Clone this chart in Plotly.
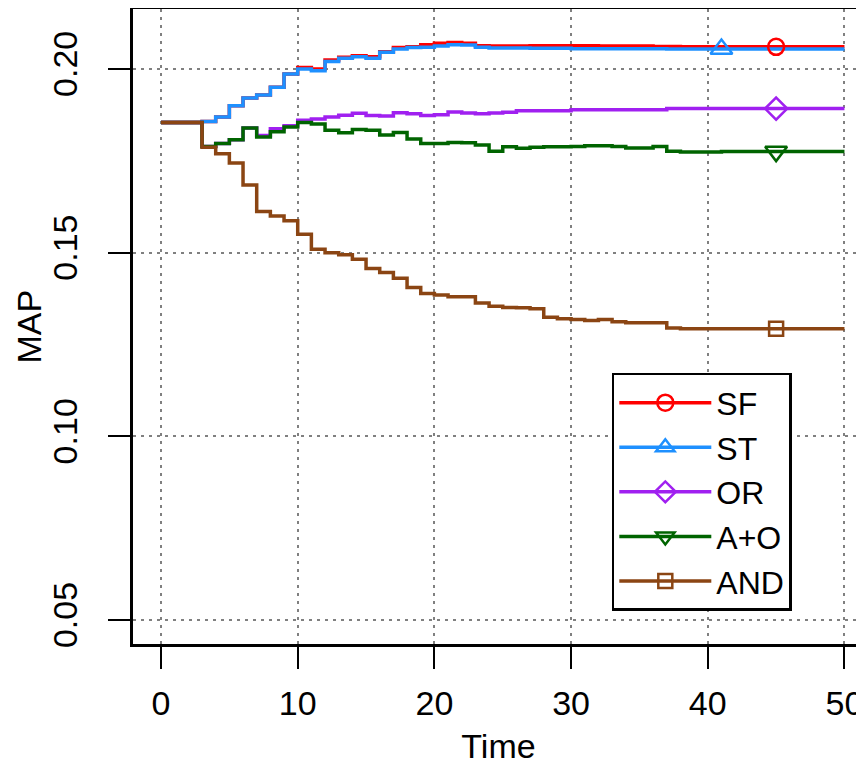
import plotly.graph_objects as go

time = list(range(51))

SF = [0.1854, 0.1854, 0.1854, 0.1857, 0.1869, 0.1900, 0.1921, 0.1929, 0.1950, 0.1986,
      0.2004, 0.2000, 0.2024, 0.2032, 0.2036, 0.2033, 0.2047, 0.2058, 0.2060, 0.2066,
      0.2070, 0.2072, 0.2070, 0.2063, 0.2062, 0.2062, 0.2062, 0.2063, 0.2063, 0.2063,
      0.2063, 0.2063, 0.2062, 0.2062, 0.2062, 0.2062, 0.2061, 0.2061, 0.2060, 0.2060,
      0.2060, 0.2060, 0.2060, 0.2060, 0.2060, 0.2060, 0.2060, 0.2060, 0.2060, 0.2060,
      0.2060]

ST = [0.1854, 0.1854, 0.1854, 0.1857, 0.1869, 0.1900, 0.1921, 0.1929, 0.1950, 0.1986,
      0.2000, 0.1995, 0.2020, 0.2029, 0.2033, 0.2029, 0.2045, 0.2054, 0.2058, 0.2059,
      0.2062, 0.2066, 0.2065, 0.2059, 0.2057, 0.2057, 0.2057, 0.2056, 0.2056, 0.2056,
      0.2055, 0.2055, 0.2055, 0.2055, 0.2055, 0.2055, 0.2055, 0.2054, 0.2054, 0.2054,
      0.2054, 0.2054, 0.2054, 0.2054, 0.2054, 0.2054, 0.2054, 0.2054, 0.2054, 0.2054,
      0.2054]

OR = [0.1854, 0.1854, 0.1854, 0.1789, 0.1797, 0.1807, 0.1839, 0.1819, 0.1837, 0.1845,
      0.1860, 0.1864, 0.1869, 0.1874, 0.1879, 0.1873, 0.1872, 0.1881, 0.1878, 0.1873,
      0.1875, 0.1883, 0.1880, 0.1878, 0.1880, 0.1882, 0.1886, 0.1886, 0.1886, 0.1886,
      0.1889, 0.1889, 0.1889, 0.1889, 0.1889, 0.1889, 0.1889, 0.1892, 0.1892, 0.1892,
      0.1892, 0.1892, 0.1892, 0.1892, 0.1892, 0.1892, 0.1892, 0.1892, 0.1892, 0.1892,
      0.1892]

AO = [0.1854, 0.1854, 0.1854, 0.1789, 0.1797, 0.1807, 0.1839, 0.1815, 0.1829, 0.1842,
      0.1854, 0.1850, 0.1833, 0.1826, 0.1835, 0.1833, 0.1820, 0.1827, 0.1809, 0.1797,
      0.1797, 0.1800, 0.1799, 0.1793, 0.1776, 0.1788, 0.1784, 0.1787, 0.1788, 0.1788,
      0.1789, 0.1791, 0.1791, 0.1789, 0.1785, 0.1785, 0.1789, 0.1776, 0.1774, 0.1774,
      0.1774, 0.1775, 0.1775, 0.1775, 0.1775, 0.1775, 0.1775, 0.1775, 0.1775, 0.1775,
      0.1775]

AND = [0.1854, 0.1854, 0.1854, 0.1787, 0.1769, 0.1744, 0.1684, 0.1612, 0.1600, 0.1587,
       0.1550, 0.1509, 0.1500, 0.1494, 0.1482, 0.1457, 0.1446, 0.1430, 0.1405, 0.1389,
       0.1385, 0.1380, 0.1380, 0.1363, 0.1354, 0.1351, 0.1350, 0.1347, 0.1324, 0.1320,
       0.1318, 0.1315, 0.1318, 0.1312, 0.1309, 0.1309, 0.1309, 0.1295, 0.1293, 0.1293,
       0.1293, 0.1293, 0.1293, 0.1293, 0.1293, 0.1293, 0.1293, 0.1293, 0.1293, 0.1293,
       0.1293]

names = ["SF", "ST", "OR", "A+O", "AND"]
series = [SF, ST, OR, AO, AND]
colors = ["#FF0000", "#1E90FF", "#A020F0", "#006400", "#8B4513"]
symbols = ["circle-open", "triangle-up-open", "diamond-open", "triangle-down-open", "square-open"]
msizes = [16, 19, 17, 19, 14]
marker_time = [45, 41, 45, 45, 45]

x_ticks = [0, 10, 20, 30, 40, 50]
y_ticks = [0.05, 0.10, 0.15, 0.20]

FONT = "Liberation Sans, Arial, Helvetica, sans-serif"

fig = go.Figure()

for name, ys, col in zip(names, series, colors):
    fig.add_trace(go.Scatter(
        x=time, y=ys, mode="lines", line=dict(color=col, width=3.5, shape="hv"),
        legendgroup=name, showlegend=False, hoverinfo="skip"))

for name, ys, col, sym, ms, mt in zip(names, series, colors, symbols, msizes, marker_time):
    fig.add_trace(go.Scatter(
        x=[time[mt]], y=[ys[mt]], mode="lines+markers", name=name,
        legendgroup=name,
        line=dict(color=col, width=3.5),
        marker=dict(symbol=sym, size=ms, color=col, line=dict(color=col, width=2.5))))

axis_common = dict(
    showline=True, linecolor="black", linewidth=2.5,
    ticks="outside", ticklen=22, tickwidth=2, tickcolor="black",
    showgrid=True, gridcolor="#808080", gridwidth=2, griddash="3px,5px",
    zeroline=False, automargin=False,
    tickfont=dict(family=FONT, size=34, color="black"),
)

fig.update_xaxes(
    range=[-2.05, 51.43], tickvals=x_ticks, ticktext=[str(v) for v in x_ticks],
    mirror=True, ticklabelstandoff=5,
    title=dict(text="Time", font=dict(family=FONT, size=34, color="black"), standoff=21),
    **axis_common)

fig.update_yaxes(
    range=[0.0435, 0.2163], tickvals=y_ticks, ticktext=[f"{v:.2f}" for v in y_ticks],
    tickangle=-90, ticklabelstandoff=18,
    **axis_common)

fig.update_layout(
    width=856, height=757,
    margin=dict(l=125, r=0, t=1, b=121),
    plot_bgcolor="white", paper_bgcolor="white",
    font=dict(family=FONT, size=34, color="black"),
    legend=dict(
        x=0.655, y=0.427, xanchor="left", yanchor="top",
        bgcolor="white", bordercolor="black", borderwidth=2.5,
        font=dict(family=FONT, size=32, color="black"),
        itemwidth=92, tracegroupgap=0,
    ),
    annotations=[dict(
        text="MAP", xref="paper", yref="paper", x=-0.1436, y=0.5,
        xanchor="center", yanchor="middle", textangle=-90, showarrow=False,
        font=dict(family=FONT, size=34, color="black"))],
)

fig.write_html("out.html")
